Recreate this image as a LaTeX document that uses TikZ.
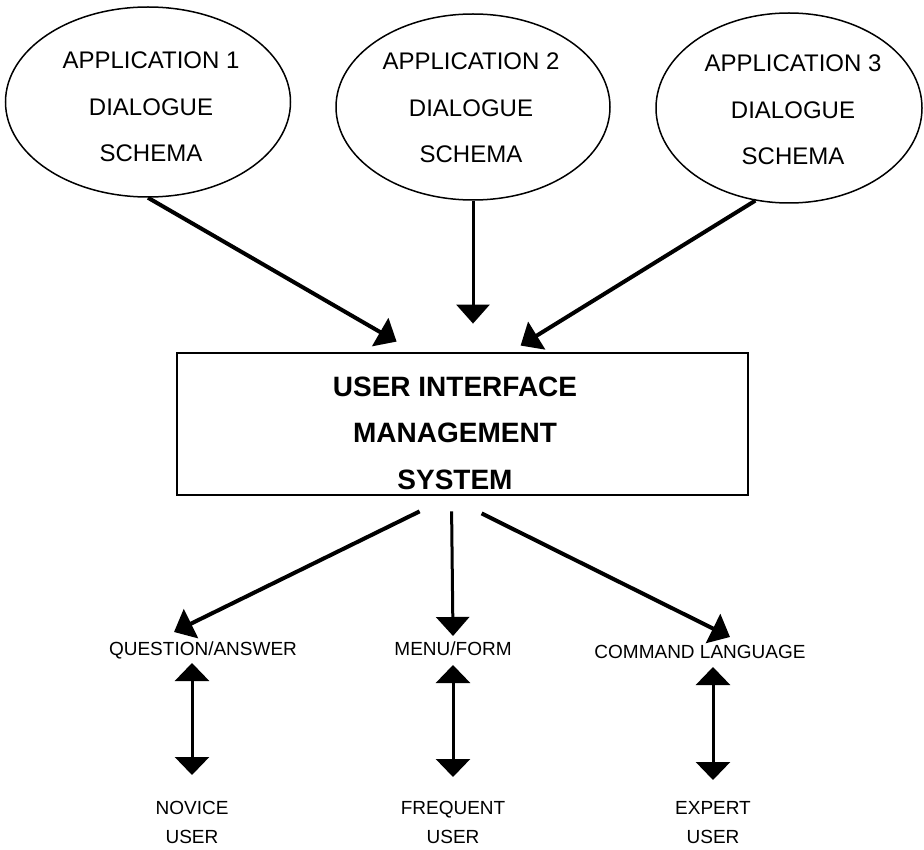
\documentclass[tikz,border=0pt]{standalone}
\usepackage{fontspec}
\setmainfont{Liberation Sans}
\usetikzlibrary{arrows.meta,shapes.geometric,calc}
\begin{document}
\begin{tikzpicture}[x=1pt,y=-1pt,
  app/.style={ellipse,draw,line width=1.5pt,inner sep=0pt},
  apptext/.style={align=center,font=\fontsize{24}{46.5}\selectfont,inner sep=0pt},
  uimsbox/.style={draw,line width=2.8pt,inner sep=0pt,minimum width=571pt,minimum height=142pt},
  uimstext/.style={align=center,font=\fontsize{28}{46.5}\selectfont\bfseries,inner sep=0pt},
  lbl/.style={font=\fontsize{19}{29}\selectfont,inner sep=0pt,align=center},
  arr/.style={line width=4pt,-{Triangle[width=32pt,length=19pt]}},
  varr/.style={line width=3pt,-{Triangle[width=33pt,length=19pt]}},
  dbl/.style={line width=3pt,{Triangle[width=34pt,length=18pt]}-{Triangle[width=34pt,length=18pt]}}
]
\fill[white] (0,0) rectangle (924,850);
\useasboundingbox (0,0) rectangle (924,850);

% ellipses
\node[app,minimum width=285pt,minimum height=190pt] (e1) at (148,102) {};
\node[app,minimum width=274pt,minimum height=186pt] (e2) at (473,107) {};
\node[app,minimum width=266pt,minimum height=190pt] (e3) at (789,108) {};
\node[apptext] (t1) at (151,107) {APPLICATION 1\\DIALOGUE\\SCHEMA};
\node[apptext] (t2) at (471,108) {APPLICATION 2\\DIALOGUE\\SCHEMA};
\node[apptext] (t3) at (793,110) {APPLICATION 3\\DIALOGUE\\SCHEMA};

% central box
\node[uimsbox] (uims) at (462.5,424) {};
\node[uimstext] (ut) at (455,433) {USER INTERFACE\\MANAGEMENT\\SYSTEM};

% bottom labels
\node[lbl] (qa) at (203,650) {QUESTION/ANSWER};
\node[lbl] (mf) at (453,649) {MENU/FORM};
\node[lbl] (cl) at (700,652) {COMMAND LANGUAGE};
\node[lbl] (novice) at (192,822) {NOVICE\\USER};
\node[lbl] (freq) at (453,822) {FREQUENT\\USER};
\node[lbl] (expert) at (713,823) {EXPERT\\USER};

% arrows from applications
\draw[arr] (e1.south) -- ($(uims.north west)+(221,-10)$);
\draw[varr] (e2.south) -- ($(e2.south |- uims.north)+(0,-28)$);
\draw[arr] (e3.250) -- ($(uims.north west)+(345,-6)$);

% arrows to dialogue styles
\draw[arr] ($(uims.south west)+(244,15)$) -- ($(qa.center)+(-29,-18)$);
\draw[varr] ($(uims.south west)+(276,15)$) -- ($(mf.center)+(0,-13)$);
\draw[arr] ($(uims.south west)+(306,17)$) -- ($(cl.center)+(30,-15)$);

% double arrows to users
\draw[dbl] ($(qa.center -| novice.center)+(0,13)$) -- ($(novice.center)+(0,-47)$);
\draw[dbl] ($(mf.center -| freq.center)+(0,16)$) -- ($(freq.center)+(0,-45)$);
\draw[dbl] ($(cl.center -| expert.center)+(0,15)$) -- ($(expert.center)+(0,-43)$);
\end{tikzpicture}
\end{document}
